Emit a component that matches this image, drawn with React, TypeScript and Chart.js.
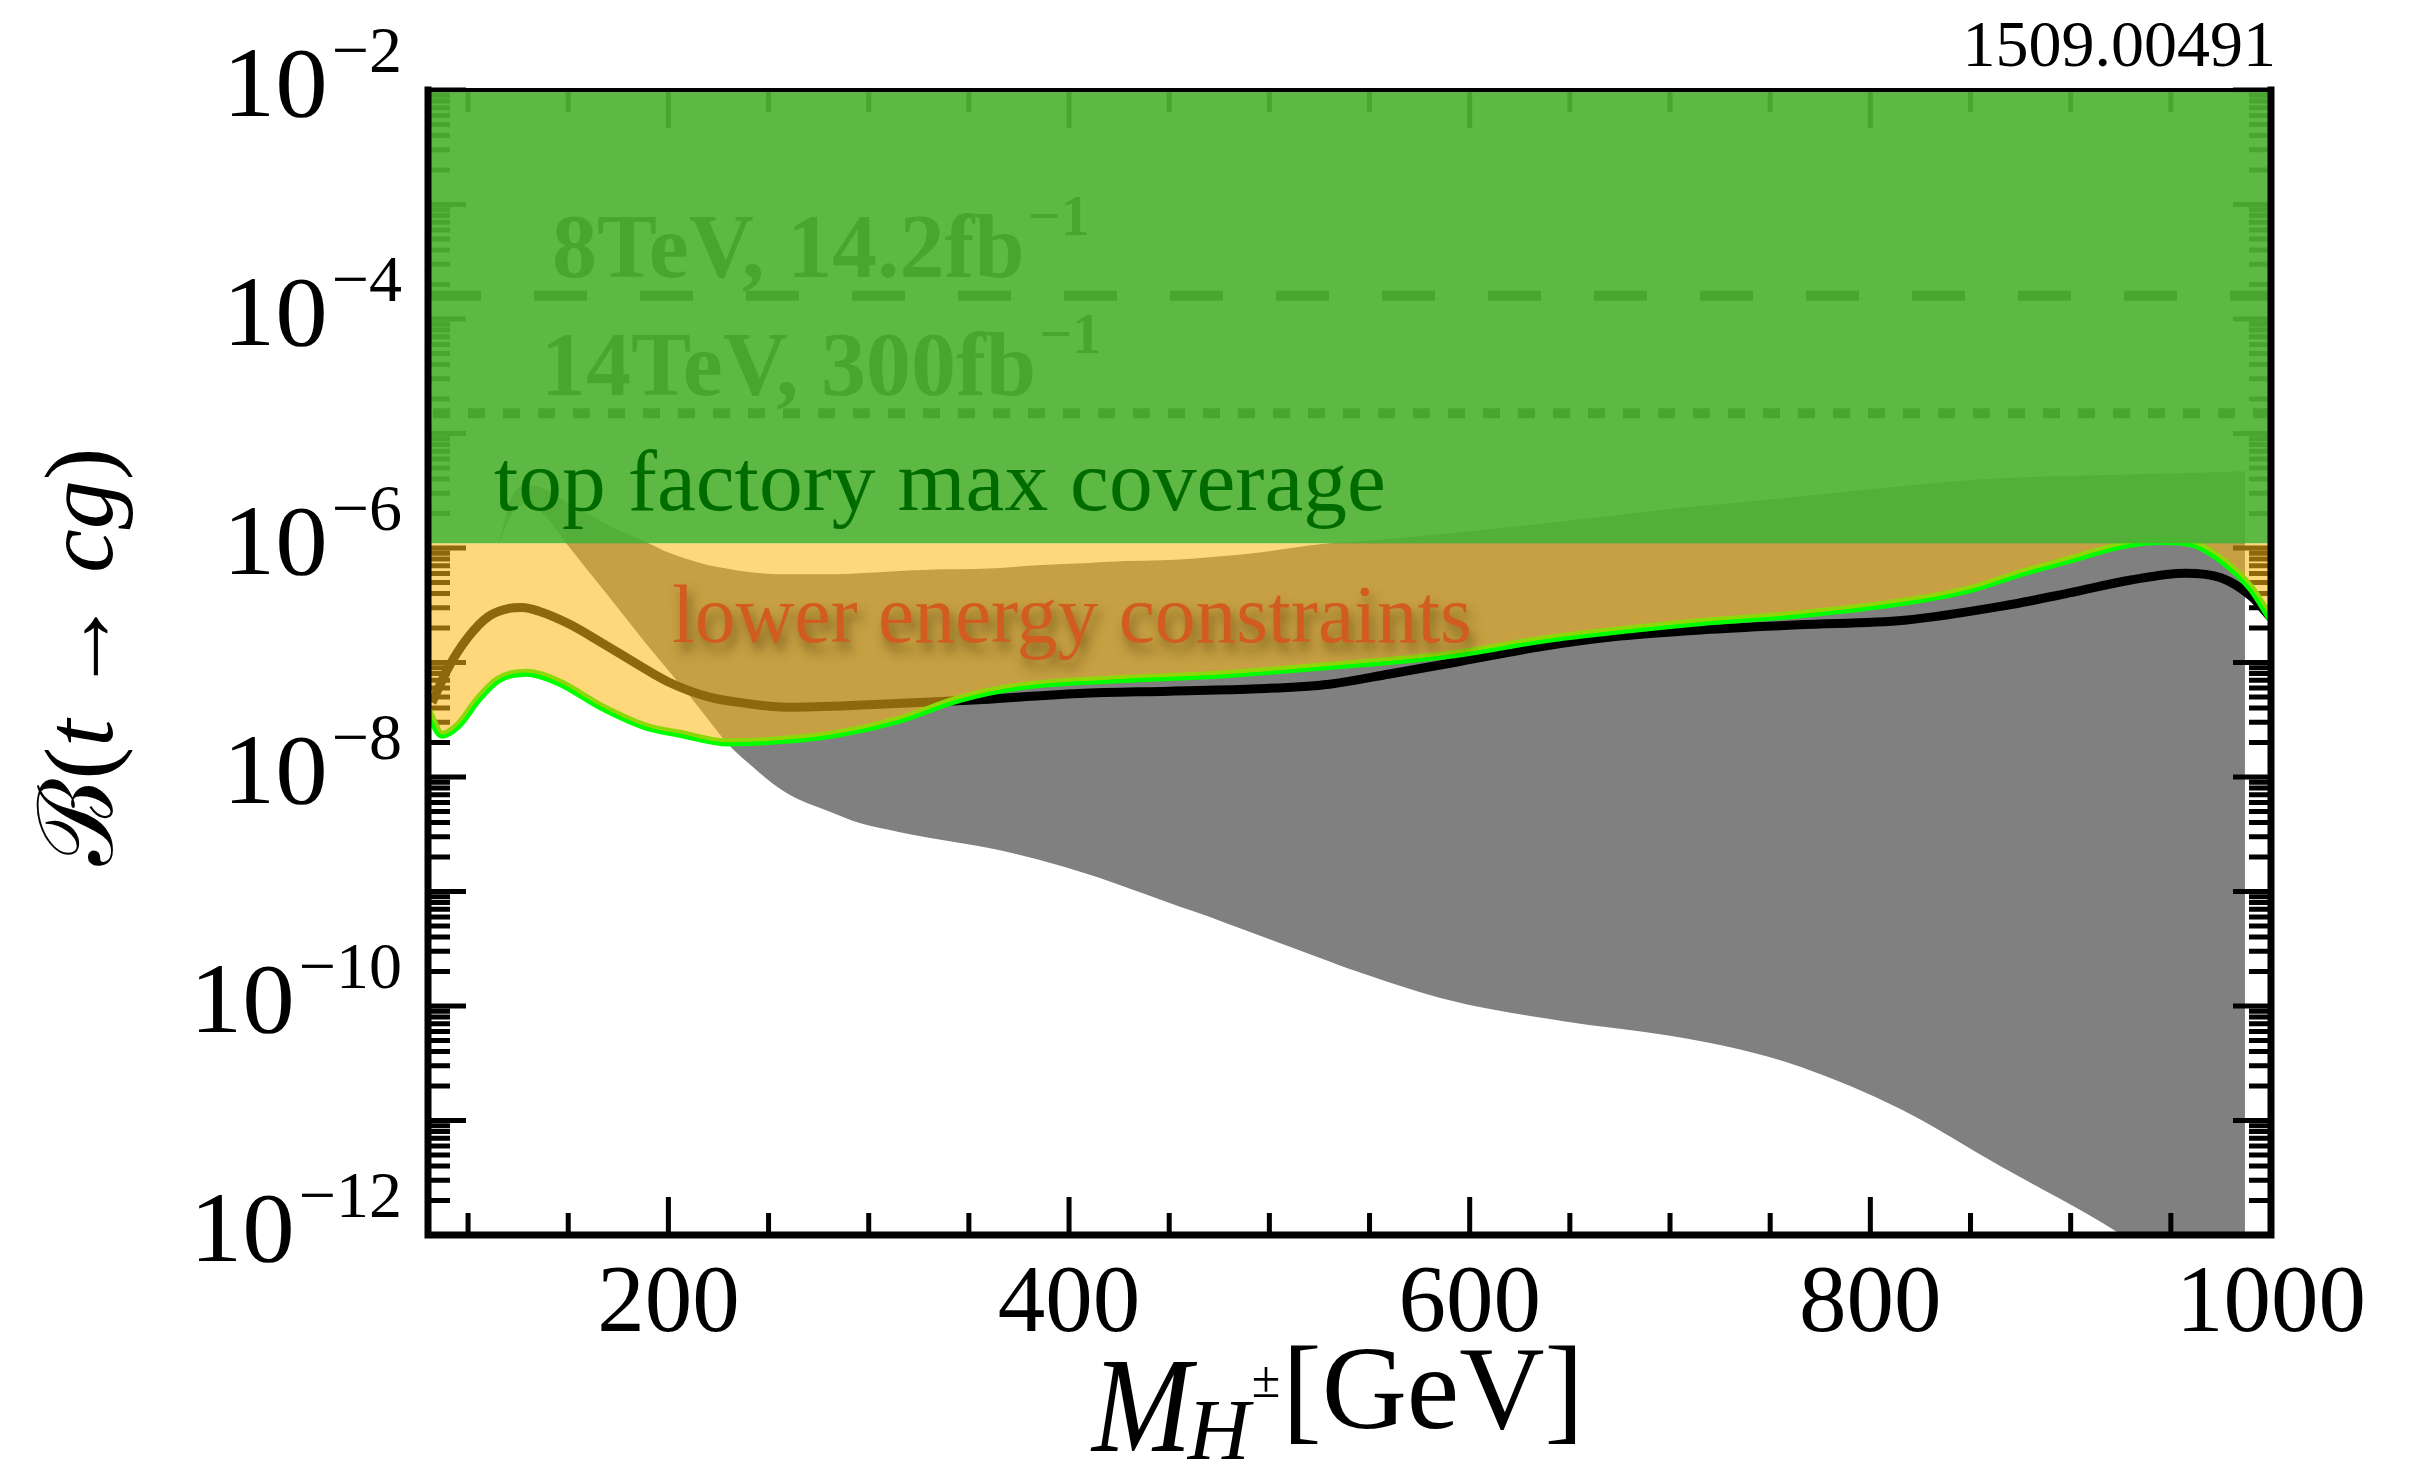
import React, { useEffect, useRef } from 'react';
import { Chart, registerables } from 'chart.js';

Chart.register(...registerables);

// ---------- data ----------
const xRange = [80, 1000];
const yRange = [1e-12, 1e-2];

// lime-green curve (lower energy constraint bound)
const limeX = [80, 87, 95, 105, 115, 129, 145, 167, 189, 205, 230, 255, 285, 315, 345, 375, 420, 472, 530, 590, 636, 675, 720, 764, 817, 850, 875, 900, 925, 945, 960, 975, 990, 1000];
const limeY = [3.8e-8, 2.34e-8, 2.82e-8, 4.79e-8, 7.08e-8, 8.13e-8, 6.76e-8, 4.07e-8, 2.75e-8, 2.4e-8, 2.0e-8, 2.09e-8, 2.4e-8, 3.16e-8, 4.79e-8, 6.17e-8, 7.08e-8, 7.76e-8, 9.33e-8, 1.17e-7, 1.58e-7, 1.91e-7, 2.29e-7, 2.63e-7, 3.39e-7, 4.37e-7, 6.03e-7, 7.94e-7, 1.05e-6, 1.15e-6, 1.1e-6, 7.94e-7, 4.47e-7, 2.4e-7];

// black curve (central prediction)
const blackX = [82, 90, 100, 110, 120, 127, 135, 150, 167, 185, 200, 220, 240, 260, 300, 350, 405, 450, 494, 530, 560, 595, 636, 675, 720, 764, 817, 865, 900, 930, 957, 975, 990, 1000];
const blackY = [4.47e-8, 8.91e-8, 1.66e-7, 2.51e-7, 2.95e-7, 3.02e-7, 2.82e-7, 2.19e-7, 1.48e-7, 9.55e-8, 6.76e-8, 5.01e-8, 4.37e-8, 4.07e-8, 4.27e-8, 4.68e-8, 5.37e-8, 5.62e-8, 5.89e-8, 6.46e-8, 7.94e-8, 1.02e-7, 1.38e-7, 1.7e-7, 1.95e-7, 2.14e-7, 2.34e-7, 3.09e-7, 4.07e-7, 5.25e-7, 6.03e-7, 5.5e-7, 3.8e-7, 2.45e-7];

// grey band (model range)
const grayX = [115, 122, 130, 140, 149, 160, 170, 180, 190, 200, 210, 220, 229, 240, 259, 280, 295, 315, 330, 360, 384, 410, 420, 455, 470, 485, 530, 539, 592, 646, 700, 735, 765, 815, 865, 923, 950, 987];
const grayUpper = [1.05e-6, 2.82e-6, 3.55e-6, 3.16e-6, 2.51e-6, 2.0e-6, 1.58e-6, 1.32e-6, 1.1e-6, 9.12e-7, 7.94e-7, 7.08e-7, 6.61e-7, 6.17e-7, 5.89e-7, 5.89e-7, 6.03e-7, 6.31e-7, 6.46e-7, 6.61e-7, 7.08e-7, 7.41e-7, 7.59e-7, 7.94e-7, 8.32e-7, 8.71e-7, 1.1e-6, 1.12e-6, 1.35e-6, 1.7e-6, 2.19e-6, 2.51e-6, 2.82e-6, 3.47e-6, 4.07e-6, 4.37e-6, 4.47e-6, 4.68e-6];
const grayLower = [1.05e-6, 2.0e-6, 2.4e-6, 1.78e-6, 1.1e-6, 6.31e-7, 3.8e-7, 2.29e-7, 1.38e-7, 8.51e-8, 5.25e-8, 3.16e-8, 2.0e-8, 1.32e-8, 7.24e-9, 5.01e-9, 3.98e-9, 3.31e-9, 2.95e-9, 2.4e-9, 1.91e-9, 1.41e-9, 1.23e-9, 7.41e-10, 6.03e-10, 4.79e-10, 2.45e-10, 2.14e-10, 1.1e-10, 7.41e-11, 5.5e-11, 4.17e-11, 2.95e-11, 1.26e-11, 3.98e-12, 1.07e-12, 5.01e-13, 1.78e-13];

// top factory coverage floor and lower-energy band top
const bandX = [80, 1000];
const greenFloor = [1.1e-6, 1.1e-6];
const yellowTop = [1.1e-6, 1.1e-6];

// LHC limits
const limit8TeV = [1.6e-4, 1.6e-4];
const limit14TeV = [1.5e-5, 1.5e-5];

// ticks
const xMajorTicks = [200, 400, 600, 800, 1000];
const xTickLabels = ['200', '400', '600', '800', '1000'];
const xMinorTicks = [100, 150, 250, 300, 350, 450, 500, 550, 650, 700, 750, 850, 900, 950];
const yDecades = [1e-12, 1e-11, 1e-10, 1e-9, 1e-8, 1e-7, 1e-6, 1e-5, 1e-4, 1e-3, 1e-2];
const yMinorMultipliers = [2, 3, 4, 5, 6, 7, 8, 9];
const yLabelValues = [1e-2, 1e-4, 1e-6, 1e-8, 1e-10, 1e-12];
const yLabelExponents = ['\u22122', '\u22124', '\u22126', '\u22128', '\u221210', '\u221212'];

// ---------- styling ----------
const SERIF = "'Liberation Serif', 'DejaVu Serif', serif";
const GREEN = 'rgba(79,178,52,0.92)';
const YELLOW = 'rgba(253,185,18,0.56)';
const GREY = 'rgb(128,128,128)';

const pts = (xs: number[], ys: number[]) => xs.map((x, i) => ({ x, y: ys[i] }));

type Part = { text: string; font: string; dx?: number; dy?: number; sx?: number };
function drawParts(ctx: CanvasRenderingContext2D, parts: Part[], x: number, y: number) {
  let cx = x;
  for (const p of parts) {
    ctx.font = p.font;
    cx += p.dx || 0;
    const sx = p.sx || 1;
    ctx.save();
    ctx.translate(cx, y + (p.dy || 0));
    ctx.scale(sx, 1);
    ctx.fillText(p.text, 0, 0);
    ctx.restore();
    cx += ctx.measureText(p.text).width * sx;
  }
  return cx;
}
function partsWidth(ctx: CanvasRenderingContext2D, parts: Part[]) {
  let w = 0;
  for (const p of parts) {
    ctx.font = p.font;
    w += (p.dx || 0) + ctx.measureText(p.text).width * (p.sx || 1);
  }
  return w;
}
function fitText(ctx: CanvasRenderingContext2D, text: string, family: string, targetW: number) {
  ctx.font = `100px ${family}`;
  const w = ctx.measureText(text).width;
  return (100 * targetW) / w;
}

const underlayPlugin = {
  id: 'underlay',
  afterDatasetDraw(chart: any, args: any) {
    if (args.index !== 1) return;
    const { ctx, chartArea: a, scales } = chart;
    const xs = scales.x;
    const ys = scales.y;
    ctx.save();
    // inward ticks on all four sides
    ctx.strokeStyle = '#000';
    ctx.lineWidth = 5;
    ctx.beginPath();
    const xt = (v: number, len: number) => {
      const px = xs.getPixelForValue(v);
      ctx.moveTo(px, a.bottom);
      ctx.lineTo(px, a.bottom - len);
      ctx.moveTo(px, a.top);
      ctx.lineTo(px, a.top + len);
    };
    const yt = (v: number, len: number) => {
      const py = ys.getPixelForValue(v);
      ctx.moveTo(a.left, py);
      ctx.lineTo(a.left + len, py);
      ctx.moveTo(a.right, py);
      ctx.lineTo(a.right - len, py);
    };
    xMajorTicks.forEach((v) => xt(v, 38));
    xMinorTicks.forEach((v) => xt(v, 22));
    yDecades.forEach((d, i) => {
      yt(d, 38);
      if (i < yDecades.length - 1) yMinorMultipliers.forEach((m) => yt(m * d, 22));
    });
    ctx.stroke();

    // limit labels (covered by the coverage band)
    ctx.fillStyle = '#000';
    ctx.textBaseline = 'alphabetic';
    ctx.textAlign = 'left';
    drawParts(ctx, [
      { text: '8TeV, 14.2fb', font: `bold 90px ${SERIF}` },
      { text: '\u22121', font: `bold 58px ${SERIF}`, dx: 3, dy: -42 },
    ], 552, ys.getPixelForValue(limit8TeV[0]) - 19);
    drawParts(ctx, [
      { text: '14TeV, 300fb', font: `bold 90px ${SERIF}` },
      { text: '\u22121', font: `bold 58px ${SERIF}`, dx: 3, dy: -42 },
    ], 541, ys.getPixelForValue(limit14TeV[0]) - 18);
    ctx.restore();
  },
  afterDatasetsDraw(chart: any) {
    const { ctx, chartArea: a } = chart;
    ctx.save();
    ctx.strokeStyle = '#000';
    ctx.lineCap = 'square';
    ctx.lineWidth = 7;
    ctx.beginPath();
    ctx.moveTo(a.left, a.top);
    ctx.lineTo(a.left, a.bottom);
    ctx.lineTo(a.right, a.bottom);
    ctx.lineTo(a.right, a.top);
    ctx.stroke();
    ctx.lineWidth = 4;
    ctx.beginPath();
    ctx.moveTo(a.left, a.top);
    ctx.lineTo(a.right, a.top);
    ctx.stroke();
    ctx.restore();
  },
  afterDraw(chart: any) {
    const { ctx, chartArea: a, scales } = chart;
    const xs = scales.x;
    const ys = scales.y;
    ctx.save();
    ctx.textBaseline = 'alphabetic';
    ctx.fillStyle = '#000';

    // x tick labels
    ctx.textAlign = 'center';
    ctx.font = `95px ${SERIF}`;
    xMajorTicks.forEach((v, i) => {
      ctx.fillText(xTickLabels[i], xs.getPixelForValue(v), a.bottom + 96);
    });

    // y tick labels 10^-n
    ctx.textAlign = 'left';
    yLabelValues.forEach((v, i) => {
      const py = ys.getPixelForValue(v);
      const parts: Part[] = [
        { text: '10', font: `100px ${SERIF}`, sx: 1.05 },
        { text: yLabelExponents[i], font: `66px ${SERIF}`, dx: 4, dy: -44 },
      ];
      const w = partsWidth(ctx, parts);
      drawParts(ctx, parts, 402 - w, py + 26);
    });

    // arXiv number
    ctx.textAlign = 'right';
    ctx.font = `66px ${SERIF}`;
    ctx.fillText('1509.00491', a.right + 5, a.top - 24);

    // x axis title: M_{H±}[GeV]
    ctx.textAlign = 'left';
    let cx = drawParts(ctx, [{ text: 'M', font: `italic 136px ${SERIF}`, sx: 0.88 }], 1092, a.bottom + 216);
    cx = drawParts(ctx, [{ text: 'H', font: `italic 86px ${SERIF}` }], cx - 4, a.bottom + 224);
    cx = drawParts(ctx, [{ text: '\u00b1', font: `52px ${SERIF}` }], cx + 2, a.bottom + 162);
    drawParts(ctx, [{ text: '[GeV]', font: `118px ${SERIF}` }], cx + 2, a.bottom + 193);

    // y axis title (rotated)
    ctx.save();
    ctx.translate(112, 657);
    ctx.rotate(-Math.PI / 2);
    const tparts: Part[] = [
      { text: '\u212c', font: `104px ${SERIF}` },
      { text: '(', font: `98px ${SERIF}` },
      { text: 't', font: `italic 98px ${SERIF}` },
      { text: ' \u2192 ', font: `98px ${SERIF}` },
      { text: 'cg', font: `italic 98px ${SERIF}` },
      { text: ')', font: `98px ${SERIF}` },
    ];
    const tw = partsWidth(ctx, tparts);
    drawParts(ctx, tparts, -tw / 2, 0);
    ctx.restore();

    // band labels
    const t1 = 'top factory max coverage';
    const s1 = fitText(ctx, t1, SERIF, 892);
    ctx.font = `${s1}px ${SERIF}`;
    ctx.fillStyle = 'rgb(0,108,0)';
    ctx.fillText(t1, 494, 510);

    const t2 = 'lower energy constraints';
    const s2 = fitText(ctx, t2, SERIF, 800);
    ctx.font = `${s2}px ${SERIF}`;
    ctx.fillStyle = 'rgb(210,92,32)';
    ctx.shadowColor = 'rgba(70,45,0,0.55)';
    ctx.shadowBlur = 12;
    ctx.shadowOffsetX = 4;
    ctx.shadowOffsetY = 9;
    ctx.fillText(t2, 672, 642);
    ctx.restore();
  },
};

export default function App() {
  const ref = useRef<HTMLCanvasElement>(null);
  useEffect(() => {
    if (!ref.current) return;
    const chart = new Chart(ref.current, {
      type: 'line',
      data: {
        datasets: [
          { // 0 grey lower edge
            label: 'grayLower', data: pts(grayX, grayLower), borderWidth: 0, borderColor: 'rgba(0,0,0,0)',
            pointRadius: 0, fill: false, cubicInterpolationMode: 'monotone', order: 20,
          },
          { // 1 grey band
            label: 'grayUpper', data: pts(grayX, grayUpper), borderWidth: 0, borderColor: 'rgba(0,0,0,0)',
            backgroundColor: GREY, pointRadius: 0, fill: { target: 0 }, cubicInterpolationMode: 'monotone', order: 19,
          },
          { // 2 8 TeV limit
            label: '8TeV', data: pts(bandX, limit8TeV), borderColor: '#000', borderWidth: 10,
            borderDash: [53, 53], pointRadius: 0, fill: false, order: 18,
          },
          { // 3 14 TeV projection
            label: '14TeV', data: pts(bandX, limit14TeV), borderColor: '#000', borderWidth: 10,
            borderDash: [17, 18], borderDashOffset: 30, pointRadius: 0, fill: false, order: 17,
          },
          { // 4 black curve
            label: 'central', data: pts(blackX, blackY), borderColor: '#000', borderWidth: 9,
            pointRadius: 0, fill: false, cubicInterpolationMode: 'monotone', order: 15,
          },
          { // 5 lime curve
            label: 'lime', data: pts(limeX, limeY), borderColor: 'rgb(0,255,0)', borderWidth: 8,
            pointRadius: 0, fill: false, cubicInterpolationMode: 'monotone', order: 14,
          },
          { // 6 lower-energy band
            label: 'lowerEnergy', data: pts(bandX, yellowTop), borderWidth: 0, borderColor: 'rgba(0,0,0,0)',
            pointRadius: 0, fill: { target: 5, above: YELLOW, below: 'rgba(0,0,0,0)' }, order: 13,
          },
          { // 7 top factory coverage
            label: 'topFactory', data: pts(bandX, greenFloor), borderWidth: 0, borderColor: 'rgba(0,0,0,0)',
            backgroundColor: GREEN, pointRadius: 0, fill: 'end', order: 12,
          },
        ],
      },
      options: {
        responsive: false,
        devicePixelRatio: 1,
        animation: false,
        events: [],
        layout: { padding: { left: 428, right: 147, top: 90, bottom: 239 } },
        scales: {
          x: { type: 'linear', min: xRange[0], max: xRange[1], display: false },
          y: { type: 'logarithmic', min: yRange[0], max: yRange[1], display: false },
        },
        plugins: {
          legend: { display: false },
          tooltip: { enabled: false },
        },
      },
      plugins: [underlayPlugin],
    } as any);
    return () => chart.destroy();
  }, []);
  return (
    <div style={{ position: 'absolute', left: 0, top: 0, width: 2418, height: 1474, background: '#fff' }}>
      <canvas ref={ref} width={2418} height={1474} style={{ display: 'block', width: 2418, height: 1474 }} />
    </div>
  );
}
